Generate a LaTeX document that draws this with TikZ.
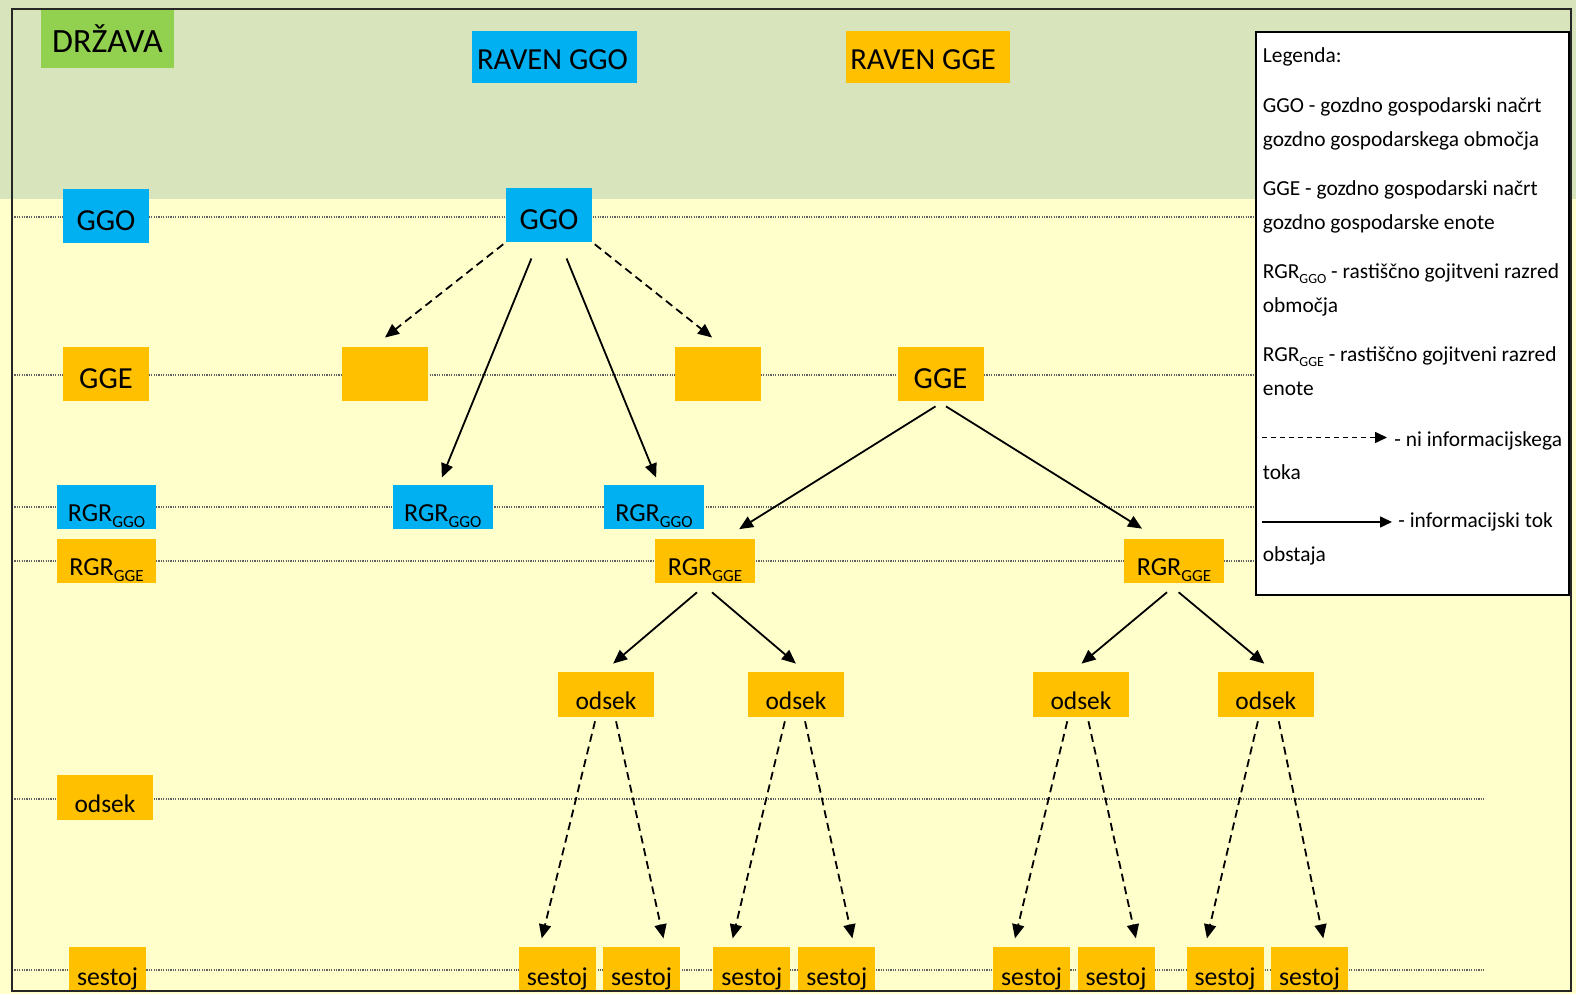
\documentclass[tikz,border=0pt]{standalone}
\usepackage{fontspec}
\setmainfont{Carlito}
\usetikzlibrary{arrows.meta,calc}
\definecolor{bandgreen}{HTML}{D8E4BC}
\definecolor{bgyellow}{HTML}{FFFFCC}
\definecolor{nodegreen}{HTML}{92D050}
\definecolor{nodeblue}{HTML}{00B0F0}
\definecolor{nodeorange}{HTML}{FFC000}
\definecolor{dotgray}{HTML}{606060}
\newcommand{\rgrsub}[1]{\raisebox{-0.22em}{\fontsize{8.5}{9}\selectfont #1}}
\newcommand{\legsub}[1]{\raisebox{-0.2em}{\fontsize{7}{8}\selectfont #1}}
\begin{document}
\begin{tikzpicture}[x=0.5pt,y=-0.5pt,
  box/.style={inner sep=0pt, draw=none, text depth=0pt},
  big/.style={box, font=\fontsize{15.3}{18}\selectfont, minimum width=43pt, minimum height=27pt, text height=14.5pt},
  rgr/.style={box, font=\fontsize{13}{15}\selectfont, minimum width=50pt, minimum height=22pt, text height=14.6pt},
  small/.style={box, font=\fontsize{12.7}{15}\selectfont, minimum width=48pt, minimum height=22.5pt, text height=15pt},
  sest/.style={box, font=\fontsize{12.9}{15}\selectfont, minimum width=38.5pt, minimum height=22pt, text height=16pt},
  blu/.style={fill=nodeblue},
  ora/.style={fill=nodeorange},
  levelline/.style={dotgray, line width=0.6pt, dash pattern=on 0.6pt off 0.6pt},
  flow/.style={line width=0.9pt, -{Triangle[length=7pt,width=6pt]}},
  noflow/.style={line width=0.9pt, dash pattern=on 4pt off 2.5pt, -{Triangle[length=7pt,width=6pt]}},
  legtext/.style={anchor=base west, inner sep=0pt, font=\fontsize{10.7}{12}\selectfont},
]
\useasboundingbox (0,0) rectangle (1576,994);
\fill[bandgreen] (0,0) rectangle (1576,199);
\fill[bgyellow] (0,199) rectangle (1576,994);

% level lines
\draw[levelline] (12,217) -- (1255,217);
\draw[levelline] (12,375) -- (1255,375);
\draw[levelline] (12,507) -- (1255,507);
\draw[levelline] (12,561) -- (1255,561);
\draw[levelline] (12,799) -- (1485,799);
\draw[levelline] (12,970) -- (1485,970);

% header nodes
\node[box, fill=nodegreen, font=\fontsize{17}{20}\selectfont, minimum width=66.5pt, minimum height=29pt, text height=14pt] (drzava) at (107.5,39) {DRŽAVA};
\node[big, blu, minimum width=82.5pt, minimum height=26pt, text height=13pt] (ravenggo) at (554.5,57) {RAVEN GGO\hspace*{2pt}};
\node[big, ora, minimum width=82pt, minimum height=26pt, text height=13pt] (ravengge) at (928,57) {RAVEN GGE\hspace*{5pt}};

% left column
\node[big, blu] (lggo) at (106,216) {GGO};
\node[big, ora] (lgge) at (106,374) {GGE};
\node[rgr, blu, minimum width=49.5pt] (lrggo) at (106.5,507) {RGR\rgrsub{GGO}};
\node[rgr, ora, minimum width=49.5pt] (lrgge) at (106.5,561) {RGR\rgrsub{GGE}};
\node[small, ora] (lodsek) at (105,797.5) {odsek};
\node[sest, ora] (lsestoj) at (107.5,969) {sestoj};

% tree
\node[big, blu] (ggo) at (549,215) {GGO};
\node[big, ora] (e1) at (384.5,374) {};
\node[big, ora] (e2) at (718,374) {};
\node[big, ora] (gge) at (940.5,374) {GGE};
\node[rgr, blu] (rgo1) at (442.7,507) {RGR\rgrsub{GGO}};
\node[rgr, blu] (rgo2) at (654,507) {RGR\rgrsub{GGO}};
\node[rgr, ora] (rge1) at (705,561) {RGR\rgrsub{GGE}};
\node[rgr, ora] (rge2) at (1174,561) {RGR\rgrsub{GGE}};
\node[small, ora] (od1) at (606,694.5) {odsek};
\node[small, ora] (od2) at (796,694.5) {odsek};
\node[small, ora] (od3) at (1081,694.5) {odsek};
\node[small, ora] (od4) at (1265.8,694.5) {odsek};
\node[sest, ora] (s1) at (557.3,969) {sestoj};
\node[sest, ora] (s2) at (641.5,969) {sestoj};
\node[sest, ora] (s3) at (751.7,969) {sestoj};
\node[sest, ora] (s4) at (836.7,969) {sestoj};
\node[sest, ora] (s5) at (1031.6,969) {sestoj};
\node[sest, ora] (s6) at (1116,969) {sestoj};
\node[sest, ora] (s7) at (1225,969) {sestoj};
\node[sest, ora] (s8) at (1309.5,969) {sestoj};

% connectors
\draw[noflow, shorten <=1.5pt, shorten >=7.3pt] (ggo.south west) -- ([xshift=-5.5pt]e1.north);
\draw[noflow, shorten <=1.5pt, shorten >=7.3pt] (ggo.south east) -- ([xshift=2.75pt]e2.north);
\draw[flow, shorten <=8.7pt, shorten >=3.8pt] ([xshift=-5.5pt]ggo.south) -- ([xshift=-1.85pt]rgo1.north);
\draw[flow, shorten <=8.7pt, shorten >=3.8pt] ([xshift=5.5pt]ggo.south) -- ([xshift=2.5pt]rgo2.north);
\draw[flow, shorten <=4.7pt, shorten >=8.9pt] ([xshift=1.5pt]gge.south) -- ([xshift=9.5pt]rge1.north);
\draw[flow, shorten <=4.7pt, shorten >=9.4pt] ([xshift=-1.25pt]gge.south) -- ([xshift=-8pt]rge2.north);
\draw[flow, shorten <=6.9pt, shorten >=6.2pt] ([xshift=1.25pt]rge1.south) -- ([xshift=-1.15pt]od1.north);
\draw[flow, shorten <=6.9pt, shorten >=6.2pt] ([xshift=-1.75pt]rge1.south) -- ([xshift=4.65pt]od2.north);
\draw[flow, shorten <=6.9pt, shorten >=6.2pt] ([xshift=1.8pt]rge2.south) -- ([xshift=-4.5pt]od3.north);
\draw[flow, shorten <=6.9pt, shorten >=6.2pt] ([xshift=-3pt]rge2.south) -- ([xshift=4pt]od4.north);
\draw[noflow, shorten <=2pt, shorten >=4.2pt] ([xshift=-5pt]od1.south) -- ([xshift=-8.8pt]s1.north);
\draw[noflow, shorten <=2pt, shorten >=4.2pt] ([xshift=4.6pt]od1.south) -- ([xshift=11.9pt]s2.north);
\draw[noflow, shorten <=2pt, shorten >=4.2pt] ([xshift=-5.1pt]od2.south) -- ([xshift=-10.5pt]s3.north);
\draw[noflow, shorten <=2pt, shorten >=4.2pt] ([xshift=4.1pt]od2.south) -- ([xshift=8.75pt]s4.north);
\draw[noflow, shorten <=2pt, shorten >=4.2pt] ([xshift=-6.4pt]od3.south) -- ([xshift=-9.3pt]s5.north);
\draw[noflow, shorten <=2pt, shorten >=4.2pt] ([xshift=3.3pt]od3.south) -- ([xshift=10.85pt]s6.north);
\draw[noflow, shorten <=2pt, shorten >=4.2pt] ([xshift=-3.5pt]od4.south) -- ([xshift=-10pt]s7.north);
\draw[noflow, shorten <=2pt, shorten >=4.2pt] ([xshift=6.1pt]od4.south) -- ([xshift=7.75pt]s8.north);

% frame
\draw[black!85, line width=1.1pt] (12,9) rectangle (1571,991);

% legend
\node[draw=black, fill=white, line width=0.9pt, inner sep=0pt, minimum width=156.5pt, minimum height=281.5pt, anchor=north west] (legend) at (1255,31.5) {};
\node[legtext] (l1) at (1262.5,63) {Legenda:};
\node[legtext] (l2) at (1262.5,113) {GGO - gozdno gospodarski načrt};
\node[legtext] (l3) at (1262.5,147) {gozdno gospodarskega območja};
\node[legtext] (l4) at (1262.5,196) {GGE - gozdno gospodarski načrt};
\node[legtext] (l5) at (1262.5,230) {gozdno gospodarske enote};
\node[legtext] (l6) at (1262.5,279) {RGR\legsub{GGO} - rastiščno gojitveni razred};
\node[legtext] (l7) at (1262.5,313) {območja};
\node[legtext] (l8) at (1262.5,362) {RGR\legsub{GGE} - rastiščno gojitveni razred};
\node[legtext] (l9) at (1262.5,396) {enote};
\node[legtext] (l10) at (1394,447) {- ni informacijskega};
\node[legtext] (l11) at (1262.5,480) {toka};
\node[legtext] (l12) at (1398,528) {- informacijski tok};
\node[legtext] (l13) at (1262.5,562) {obstaja};
\coordinate (da) at (1262,437.5);
\coordinate (db) at (1387,437.5);
\coordinate (fa) at (1262,522);
\coordinate (fb) at (1392,522);
\draw[line width=0.8pt, dash pattern=on 2.5pt off 2pt, -{Triangle[length=6pt,width=5.5pt]}] (da) -- (db);
\draw[line width=0.8pt, -{Triangle[length=6pt,width=5.5pt]}] (fa) -- (fb);
\end{tikzpicture}
\end{document}
